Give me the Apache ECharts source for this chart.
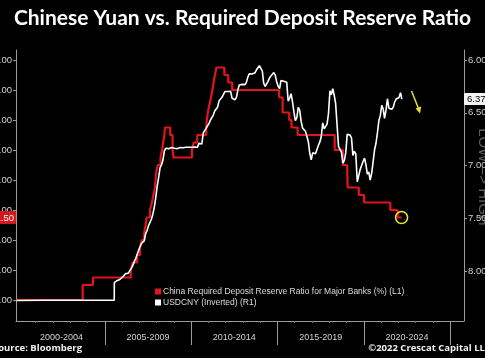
<!DOCTYPE html>
<html><head><meta charset="utf-8">
<script src="https://cdn.jsdelivr.net/npm/echarts@6/dist/echarts.min.js"></script>
<style>html,body{margin:0;padding:0;background:#000;}#c{width:485px;height:358px;}</style>
</head><body><div id="c"></div>
<script>
// ---- DATA ----
const rrrDates = ['1999-11-21','2003-09-21','2004-04-25','2006-07-05','2006-08-15','2006-11-15','2007-01-15','2007-02-25','2007-04-16','2007-05-15','2007-06-05','2007-08-15','2007-09-25','2007-10-25','2007-11-26','2007-12-25','2008-01-25','2008-03-25','2008-04-25','2008-05-20','2008-06-15','2008-06-25','2008-10-15','2008-12-05','2008-12-25','2010-01-18','2010-02-25','2010-05-10','2010-11-16','2010-11-29','2010-12-20','2011-01-20','2011-02-24','2011-03-25','2011-04-21','2011-05-18','2011-06-20','2011-12-05','2012-02-24','2012-05-18','2015-02-05','2015-04-20','2015-09-06','2015-10-24','2016-03-01','2018-04-25','2018-10-15','2019-01-15','2019-01-25','2019-09-16','2020-01-06','2021-07-15','2021-12-15','2022-03-10'];
const rrrValues = [6,7,7.5,8,8.5,9,9.5,10,10.5,11,11.5,12,12.5,13,13.5,14.5,15,15.5,16,16.5,17,17.5,17,16,15.5,16,16.5,17,17.5,18,18.5,19,19.5,20,20.5,21,21.5,21,20.5,20,19.5,18.5,18,17.5,17,16,15,14.5,13.5,13,12.5,12,11.5,11.5];

const usdPegDates = ['1999-11-21','2001-06-15','2003-01-15','2004-06-15','2005-07-20','2005-07-22'];
const usdPegValues = [8.2793,8.2770,8.2773,8.2766,8.2765,8.1100];
const usdMonthlyStart = '2005-08';
const usdMonthly = [
  8.104,8.092,8.084,8.080,8.070,
  8.056,8.040,8.026,8.016,8.020,7.996,7.976,7.950,7.911,7.886,7.843,7.808,
  7.771,7.739,7.731,7.715,7.645,7.616,7.570,7.556,7.507,7.459,7.392,7.305,
  7.192,7.111,7.019,6.993,6.948,6.860,6.837,6.847,6.840,6.840,6.830,6.836,
  6.837,6.838,6.840,6.831,6.829,6.831,6.832,6.832,6.827,6.827,6.827,6.828,
  6.827,6.826,6.826,6.826,6.827,6.790,6.775,6.797,6.690,6.669,6.655,6.623,
  6.601,6.568,6.552,6.522,6.484,6.465,6.445,6.387,6.380,6.354,6.362,6.300,
  6.313,6.298,6.295,6.297,6.362,6.355,6.376,6.356,6.285,6.237,6.224,6.231,
  6.221,6.233,6.212,6.161,6.131,6.137,6.133,6.120,6.120,6.092,6.094,6.054,
  6.045,6.106,6.218,6.251,6.247,6.202,6.172,6.151,6.137,6.119,6.143,6.206,
  6.250,6.270,6.195,6.200,6.201,6.204,6.210,6.389,6.361,6.319,6.398,6.494,
  6.574,6.545,6.448,6.478,6.580,6.645,6.644,6.675,6.672,6.775,6.886,6.945,
  6.880,6.868,6.889,6.895,6.810,6.778,6.727,6.596,6.652,6.635,6.607,6.507,
  6.292,6.328,6.272,6.334,6.412,6.620,6.818,6.831,6.873,6.977,6.953,6.878,
  6.703,6.689,6.712,6.737,6.904,6.866,6.890,7.154,7.149,7.039,7.038,6.962,
  6.931,6.991,7.081,7.062,7.139,7.072,6.967,6.851,6.789,6.690,6.575,6.525,
  6.430,6.467,6.553,6.473,6.367,6.457,6.462,6.467,6.446,6.398,6.370,6.373,
  6.355,6.309,6.370
];

const periodLabels = ['2000-2004','2005-2009','2010-2014','2015-2019','2020-2024'];
const periodBreaks = [2005,2010,2015,2020,2025];
const leftTickValues = [6,8,10,12,14,16,18,20,22];
const rightTickValues = [6.0,6.5,7.0,7.5,8.0];
const rrrName = 'China Required Deposit Reserve Ratio for Major Banks (%) (L1)';
const usdName = 'USDCNY (Inverted) (R1)';
const titleText = 'Chinese Yuan vs. Required Deposit Reserve Ratio';
const rightAxisName = 'LOW => HIGH';
const sourceText = 'Source: Bloomberg';
const copyrightText = '\u00A92022 Crescat Capital LLC';

// ---- HELPERS ----
function toYear(s){
  const p = s.split('-').map(Number);
  const y = p[0], m = p[1], d = p.length > 2 ? p[2] : 15;
  const a = Date.UTC(y,0,1), b = Date.UTC(y+1,0,1);
  return y + (Date.UTC(y,m-1,d) - a) / (b - a);
}
const rrrData = rrrDates.map((d,i)=>[toYear(d), rrrValues[i]]);
const sy = +usdMonthlyStart.split('-')[0], sm = +usdMonthlyStart.split('-')[1];
const usdData = usdPegDates.map((d,i)=>[toYear(d), usdPegValues[i]]).concat(
  usdMonthly.map((v,i)=>{
    const mm = sm - 1 + i; const y = sy + Math.floor(mm/12); const m = mm % 12 + 1;
    return [toYear(y + '-' + (m<10?'0':'') + m), v];
  })
);
const lastRRR = rrrData[rrrData.length-1];
const lastUSD = usdData[usdData.length-1];
const periodMids = periodLabels.map(l => +l.split('-')[0] + 2.5);
const yearTicks = []; for (let y = 2001; y <= 2025; y++) if (periodBreaks.indexOf(y) < 0) yearTicks.push(y);

const X_MIN = 1999.86, X_MAX = 2025.8;
const L_MIN = 4.6, L_MAX = 22.667;
const R_MIN = 5.905, R_MAX = 8.474;
const AX = '#9a9a9a', LBL = '#d2d2d2', FONT = 'Liberation Sans';
const YEL = '#e8e22a';

const chart = echarts.init(document.getElementById('c'), null, {renderer:'canvas'});
chart.setOption({
  backgroundColor: '#000',
  animation: false,
  title: [
    {text: titleText, left: 'center', top: 8, padding: 0,
     textStyle: {color: '#fff', fontSize: 21, fontWeight: 'bold', fontFamily: 'Lato'}},
    {text: sourceText, left: -7, top: 343, padding: 0,
     textStyle: {color: '#f2f2f2', fontSize: 9.5, fontWeight: 'bold', fontFamily: 'Open Sans'}},
    {text: copyrightText, right: -6, top: 343, padding: 0,
     textStyle: {color: '#f2f2f2', fontSize: 9.5, fontWeight: 'bold', fontFamily: 'Open Sans'}}
  ],
  legend: {
    orient: 'vertical', left: 155, top: 287, itemGap: 2, padding: 0,
    itemWidth: 6, itemHeight: 6, icon: 'rect',
    textStyle: {color: '#dcdcdc', fontSize: 8.5, fontFamily: FONT, padding: [0,0,0,-3]},
    data: [rrrName, usdName]
  },
  grid: {left: 16, right: 21, top: 50, bottom: 37, containLabel: false, outerBoundsMode: 'none'},
  xAxis: [
    {type: 'value', min: X_MIN, max: X_MAX, position: 'bottom',
     axisLine: {show: true, lineStyle: {color: AX, width: 1}},
     axisTick: {show: true, customValues: periodBreaks, length: 24, lineStyle: {color: AX}},
     axisLabel: {show: false}, splitLine: {show: false}},
    {type: 'value', min: X_MIN, max: X_MAX, position: 'bottom',
     axisLine: {show: false},
     axisTick: {show: true, customValues: yearTicks, length: 2, lineStyle: {color: '#777'}},
     axisLabel: {show: true, customValues: periodMids, margin: 12, color: LBL, fontSize: 9, fontFamily: FONT,
       formatter: v => periodLabels[periodMids.indexOf(v)] || ''},
     splitLine: {show: false}}
  ],
  yAxis: [
    {type: 'value', position: 'left', min: L_MIN, max: L_MAX,
     axisLine: {show: true, lineStyle: {color: AX}},
     axisTick: {show: true, customValues: leftTickValues, length: 3, lineStyle: {color: AX}},
     axisLabel: {show: true, customValues: leftTickValues, margin: 4, color: LBL, fontSize: 9.5, fontFamily: FONT,
       formatter: v => v.toFixed(2)},
     splitLine: {show: false}},
    {type: 'value', position: 'right', inverse: true, min: R_MIN, max: R_MAX,
     axisLine: {show: true, lineStyle: {color: AX}},
     axisTick: {show: true, customValues: rightTickValues, length: 3, lineStyle: {color: AX}},
     axisLabel: {show: true, customValues: rightTickValues, margin: 4, color: LBL, fontSize: 9.5, fontFamily: FONT,
       formatter: v => v.toFixed(2)},
     splitLine: {show: false}},
    {type: 'value', position: 'left', offset: 0, min: L_MIN, max: L_MAX,
     axisLine: {show: false}, axisTick: {show: false}, splitLine: {show: false},
     axisLabel: {show: true, customValues: [lastRRR[1]], margin: 0,
       formatter: v => '{t|' + v.toFixed(2) + '}',
       rich: {t: {backgroundColor: '#d3181e', color: '#fff', fontSize: 9.5, fontFamily: FONT, padding: [2,2,1,2], borderRadius: 1}}}},
    {type: 'value', position: 'right', offset: 0, inverse: true, min: R_MIN, max: R_MAX,
     axisLine: {show: false}, axisTick: {show: false}, splitLine: {show: false},
     axisLabel: {show: true, customValues: [lastUSD[1]], margin: 0,
       formatter: v => '{t|' + v.toFixed(2) + '}',
       rich: {t: {backgroundColor: '#f4f4f4', color: '#000', fontSize: 9.5, fontFamily: FONT, padding: [1,2,1,3], borderRadius: 1}}}}
  ],
  series: [
    {name: rrrName, type: 'line', xAxisIndex: 0, yAxisIndex: 0, data: rrrData, step: 'end',
     showSymbol: false, symbol: 'none', z: 2,
     lineStyle: {color: '#e3141b', width: 2.2}, itemStyle: {color: '#e3141b'},
     markPoint: {symbol: 'circle', symbolSize: 12, silent: true,
       itemStyle: {color: 'rgba(0,0,0,0)', borderColor: YEL, borderWidth: 1.6},
       label: {show: false},
       data: [{coord: lastRRR}]}},
    {name: usdName, type: 'line', xAxisIndex: 0, yAxisIndex: 1, data: usdData,
     showSymbol: false, symbol: 'none', z: 3,
     lineStyle: {color: '#ffffff', width: 1.6}, itemStyle: {color: '#ffffff'}}
  ],
  graphic: [
    {type: 'text', silent: true, x: 483, y: 177, rotation: -Math.PI / 2,
     style: {text: rightAxisName, fill: '#5e5e5e', font: '15px "Liberation Sans"', align: 'center', verticalAlign: 'middle'}},
    {type: 'line', silent: true, shape: {x1: 411.5, y1: 91, x2: 418.5, y2: 108.5},
     style: {stroke: YEL, lineWidth: 1.5}},
    {type: 'polygon', silent: true, shape: {points: [[420, 113.5], [421.2, 106.4], [415.6, 108.6]]},
     style: {fill: YEL}}
  ]
});
</script></body></html>
